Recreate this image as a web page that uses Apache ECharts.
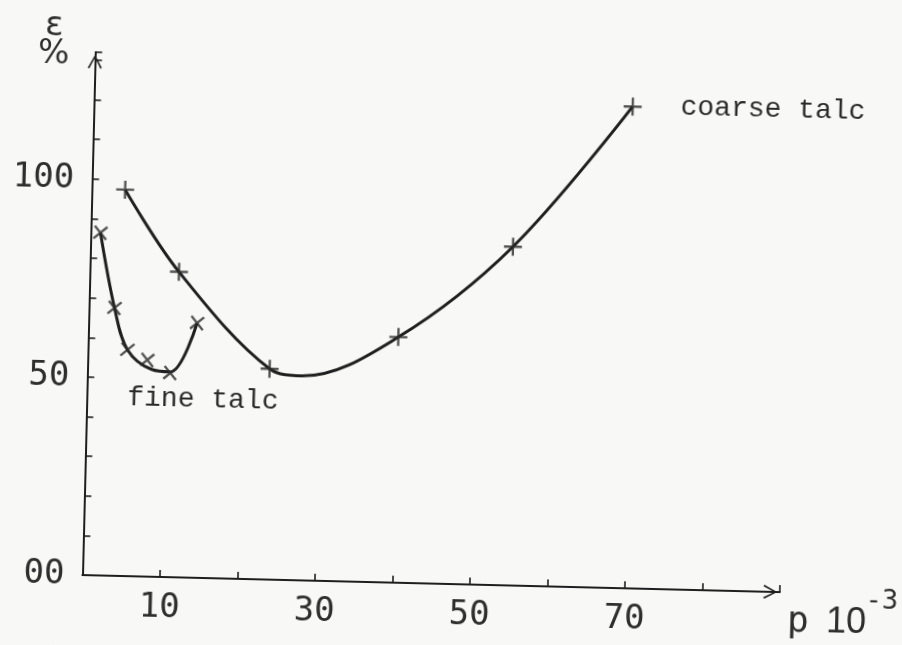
<!DOCTYPE html>
<html>
<head>
<meta charset="utf-8">
<script src="https://cdn.jsdelivr.net/npm/echarts@6/dist/echarts.min.js"></script>
<style>
html,body{margin:0;padding:0;background:#f8f8f6;width:902px;height:645px;overflow:hidden}
#chart{position:absolute;left:0;top:0;width:902px;height:645px;transform:rotate(1.4deg);transform-origin:80px 575px}
</style>
</head>
<body>
<div id="chart"></div>
<script>
// Values (p in units of 10^-3, epsilon in %)
const coarseMarks = [[4.3, 97.5], [11.5, 77.1], [23.5, 53.2], [40.0, 62.0], [54.5, 85.5], [69.5, 121.6]];
const coarseCurve = [[4.3, 97.5], [11.5, 77.1], [23.5, 53.2], [27.7, 51.6], [40.0, 62.0], [54.5, 85.5], [69.5, 121.6]];
const fineMarks = [[1.25, 86.5], [3.3, 67.6], [5.1, 57.1], [7.7, 54.7], [10.7, 51.5], [14.0, 64.3]];
const fineCurve = [[1.25, 86.5], [3.3, 67.6], [5.1, 57.1], [8.3, 52.3], [10.7, 51.8], [14.0, 64.3]];
const xTickLabels = [[10, '10'], [30, '30'], [50, '50'], [70, '70']];
const yTickLabels = [[0, '00'], [50, '50'], [100, '100']];
const seriesNames = ['coarse talc', 'fine talc'];

const ink = '#1f1f1f';
const plusPath = 'path://M0,4.35H10V5.65H0Z M4.35,0H5.65V10H4.35Z';
const chevron = 'path://M5,0 L10,9.3 L9,10 L5,2.2 L1,10 L0,9.3 Z';

function labelFor(list, v) {
  for (const [val, txt] of list) { if (Math.abs(val - v) < 1e-6) return txt; }
  return '';
}

const chart = echarts.init(document.getElementById('chart'), null, {renderer: 'canvas'});
chart.setOption({
  backgroundColor: '#f8f8f6',
  animation: false,
  grid: {left: 80, right: 122, top: 52, bottom: 70, containLabel: false},
  xAxis: {
    type: 'value', min: 0, max: 90, interval: 10,
    axisLine: {show: true, lineStyle: {color: ink, width: 2}, symbol: ['none', chevron], symbolSize: [14, 19], symbolOffset: [0, -9.5]},
    axisTick: {show: true, inside: true, length: 7, lineStyle: {color: ink, width: 1.6}},
    axisLabel: {margin: 14, fontFamily: 'DejaVu Sans Mono', fontSize: 34, color: '#2e2e2e',
      formatter: v => labelFor(xTickLabels, v)},
    splitLine: {show: false}
  },
  yAxis: {
    type: 'value', min: 0, max: 132, interval: 10,
    axisLine: {show: true, lineStyle: {color: ink, width: 2}, symbol: ['none', chevron], symbolSize: [14, 19], symbolOffset: [0, -9.5]},
    axisTick: {show: true, inside: true, length: 7, lineStyle: {color: ink, width: 1.6}},
    axisLabel: {margin: 18, fontFamily: 'DejaVu Sans Mono', fontSize: 34, color: '#2e2e2e',
      formatter: v => labelFor(yTickLabels, v)},
    splitLine: {show: false}
  },
  series: [
    {name: seriesNames[0] + ' curve', type: 'line', data: coarseCurve, smooth: 0.35, symbol: 'none',
      lineStyle: {color: ink, width: 3}, z: 2},
    {name: seriesNames[1] + ' curve', type: 'line', data: fineCurve, smooth: 0.35, symbol: 'none',
      lineStyle: {color: ink, width: 3}, z: 2},
    {name: seriesNames[0], type: 'scatter', data: coarseMarks, symbol: plusPath, symbolSize: 18,
      itemStyle: {color: '#2a2a2a'}, z: 3},
    {name: seriesNames[1], type: 'scatter', data: fineMarks, symbol: plusPath, symbolSize: 18, symbolRotate: 40,
      itemStyle: {color: '#2a2a2a'}, z: 3}
  ],
  graphic: [
    {type: 'text', x: 669, y: 93, style: {text: seriesNames[0], font: '28px "Liberation Mono"', fill: '#2a2a2a', textAlign: 'left', textVerticalAlign: 'middle'}},
    {type: 'text', x: 123, y: 397, style: {text: seriesNames[1], font: '28px "Liberation Mono"', fill: '#2a2a2a', textAlign: 'left', textVerticalAlign: 'middle'}},
    {type: 'text', x: 41, y: 27, style: {text: 'ε', font: '34px "DejaVu Sans"', fill: '#2e2e2e', textAlign: 'center', textVerticalAlign: 'middle'}},
    {type: 'text', x: 41, y: 55, style: {text: '%', font: '33px "DejaVu Sans"', fill: '#2e2e2e', textAlign: 'center', textVerticalAlign: 'middle'}},
    {type: 'text', x: 788, y: 605, style: {text: 'p', font: '36px "DejaVu Sans Mono"', fill: '#2e2e2e', textAlign: 'left', textVerticalAlign: 'middle'}},
    {type: 'text', x: 827, y: 604, style: {text: '10', font: '36px "Liberation Sans"', fill: '#2e2e2e', textAlign: 'left', textVerticalAlign: 'middle'}},
    {type: 'text', x: 866, y: 582, style: {text: '-3', font: '27px "DejaVu Sans Mono"', fill: '#2e2e2e', textAlign: 'left', textVerticalAlign: 'middle'}}
  ]
});
</script>
</body>
</html>
